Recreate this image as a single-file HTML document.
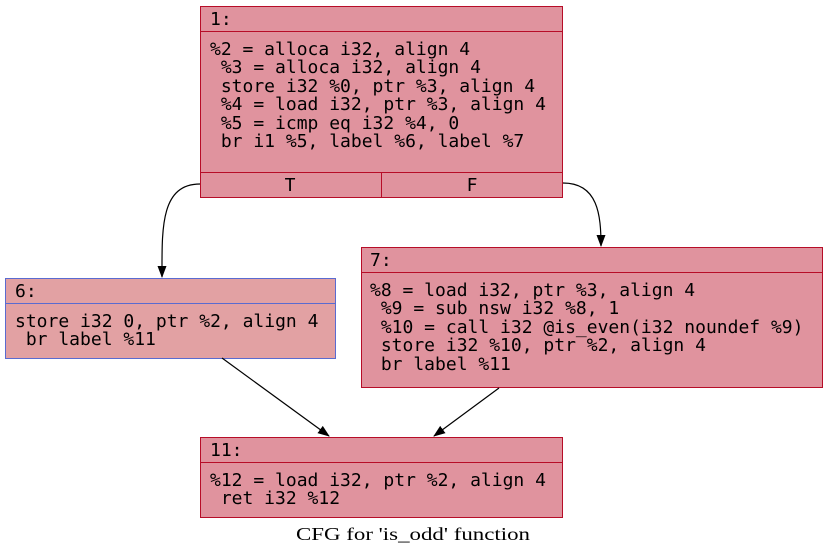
<!DOCTYPE html>
<html><head><style>body{margin:0;background:#fff}svg{display:block}text{font-family:"DejaVu Sans Mono",monospace;font-size:18px;fill:#000;white-space:pre}</style></head><body>
<svg width="829" height="556" xmlns="http://www.w3.org/2000/svg">
<defs><marker id="a" markerWidth="12" markerHeight="12" refX="11" refY="6" orient="auto" markerUnits="userSpaceOnUse"><path d="M0,1.5 L12,6 L0,10.5 Z" fill="#000"/></marker></defs>
<g stroke="#b70d28" fill="#e0939e">
<rect x="200.5" y="6.5" width="362" height="191"/>
<line x1="200.5" y1="31.5" x2="562.5" y2="31.5"/>
<line x1="200.5" y1="172.5" x2="562.5" y2="172.5"/>
<line x1="381.5" y1="172.5" x2="381.5" y2="197.5"/>
<rect x="361.5" y="247.5" width="461" height="140"/>
<line x1="361.5" y1="272.5" x2="822.5" y2="272.5"/>
<rect x="200.5" y="437.5" width="362" height="80"/>
<line x1="200.5" y1="462.5" x2="562.5" y2="462.5"/>
</g>
<g stroke="#5a6bd0" fill="#e2a1a3">
<rect x="5.5" y="278.5" width="330" height="80"/>
<line x1="5.5" y1="303.5" x2="335.5" y2="303.5"/>
</g>
<g fill="none" stroke="#000" stroke-width="1.2">
<path d="M200,184 C160,184 162,230 162,277" marker-end="url(#a)"/>
<path d="M563,183 C598,183 601,215 601,246" marker-end="url(#a)"/>
<path d="M222,358 L329,436" marker-end="url(#a)"/>
<path d="M499,388 L434,436" marker-end="url(#a)"/>
</g>
<text x="210" y="25">1:</text>
<text x="210" y="55">%2 = alloca i32, align 4</text>
<text x="210" y="73"> %3 = alloca i32, align 4</text>
<text x="210" y="92"> store i32 %0, ptr %3, align 4</text>
<text x="210" y="110"> %4 = load i32, ptr %3, align 4</text>
<text x="210" y="129"> %5 = icmp eq i32 %4, 0</text>
<text x="210" y="147"> br i1 %5, label %6, label %7</text>
<text x="290" y="191" text-anchor="middle">T</text>
<text x="472" y="191" text-anchor="middle">F</text>
<text x="15" y="297">6:</text>
<text x="15" y="327">store i32 0, ptr %2, align 4</text>
<text x="15" y="345"> br label %11</text>
<text x="370" y="266">7:</text>
<text x="370" y="296">%8 = load i32, ptr %3, align 4</text>
<text x="370" y="314"> %9 = sub nsw i32 %8, 1</text>
<text x="370" y="333"> %10 = call i32 @is_even(i32 noundef %9)</text>
<text x="370" y="351"> store i32 %10, ptr %2, align 4</text>
<text x="370" y="370"> br label %11</text>
<text x="210" y="456">11:</text>
<text x="210" y="486">%12 = load i32, ptr %2, align 4</text>
<text x="210" y="504"> ret i32 %12</text>
<text x="296" y="540" textLength="234" lengthAdjust="spacingAndGlyphs" style="font-family:'Liberation Serif',serif;font-size:18px">CFG for 'is_odd' function</text>
</svg>
</body></html>
